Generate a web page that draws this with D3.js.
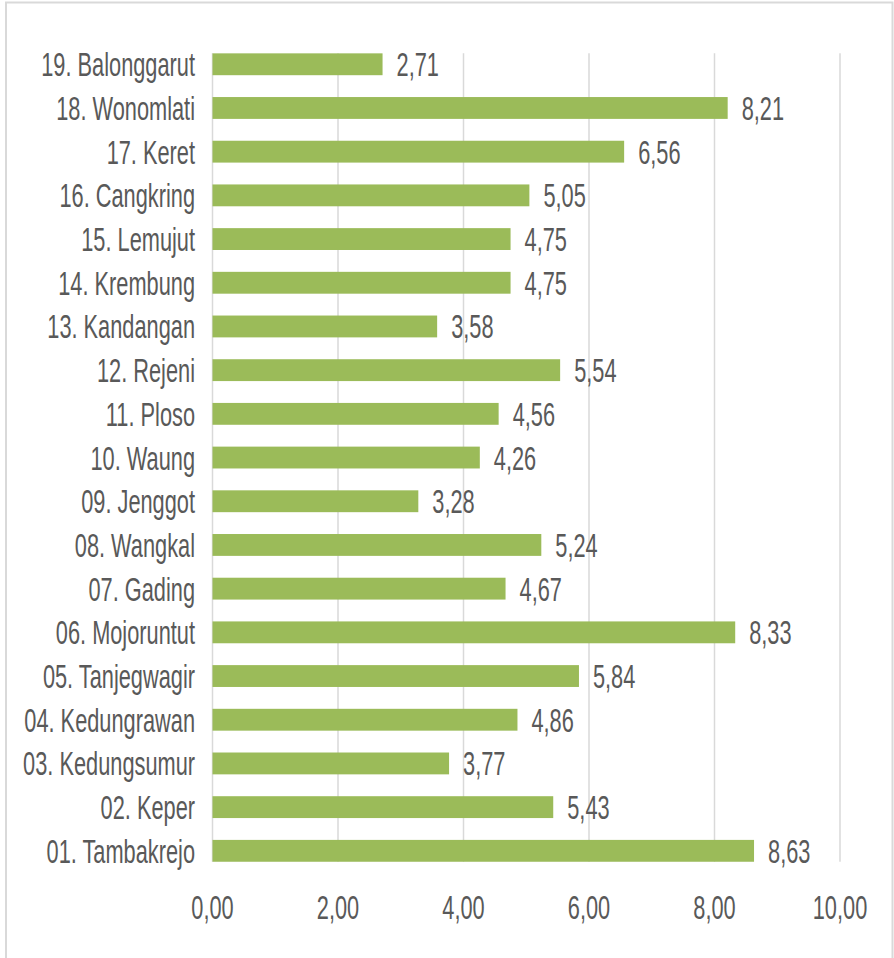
<!DOCTYPE html>
<html>
<head>
<meta charset="utf-8">
<script src="https://cdn.jsdelivr.net/npm/d3@7"></script>
<style>
  html, body { margin: 0; padding: 0; background: #fff; }
  svg { display: block; }
</style>
</head>
<body>
<svg id="chart" width="894" height="958"></svg>
<script>
"use strict";

// categories, bottom to top as in the picture
const categories = [
  '01. Tambakrejo', '02. Keper', '03. Kedungsumur', '04. Kedungrawan', '05. Tanjegwagir',
  '06. Mojoruntut', '07. Gading', '08. Wangkal', '09. Jenggot', '10. Waung',
  '11. Ploso', '12. Rejeni', '13. Kandangan', '14. Krembung', '15. Lemujut',
  '16. Cangkring', '17. Keret', '18. Wonomlati', '19. Balonggarut'
];
const values = [
  8.63, 5.43, 3.77, 4.86, 5.84,
  8.33, 4.67, 5.24, 3.28, 4.26,
  4.56, 5.54, 3.58, 4.75, 4.75,
  5.05, 6.56, 8.21, 2.71
];
const xTicks = [0, 2, 4, 6, 8, 10];

const data = categories.map((c, i) => ({ cat: c, val: values[i] }));

const svg = d3.select('#chart');
const W = 894, H = 958;

const FONT = "'Liberation Sans', Arial, sans-serif";
const FS = 33.5;      // tall glyphs
const SX = 0.65;      // horizontally squeezed, as in the picture
const TXT = '#595959';
const fmt = v => d3.format('.2f')(v).replace('.', ',');

// frame
svg.append('rect')
  .attr('x', 6).attr('y', 2.5)
  .attr('width', 886.5).attr('height', 960)
  .attr('fill', '#fff')
  .attr('stroke', '#d9d9d9').attr('stroke-width', 2);

const x = d3.scaleLinear().domain([0, 10]).range([212.5, 840]);
const y = d3.scaleBand()
  .domain(categories.slice().reverse())
  .range([31.5, 883.6])
  .padding(0.5);

const gridTop = y(categories[categories.length - 1]);
const gridBot = y(categories[0]) + y.bandwidth();

// squeezed text helper
function sText(g, tx, ty, str, anchor) {
  return g.append('text')
    .attr('transform', 'translate(' + tx + ',' + ty + ') scale(' + SX + ',1)')
    .attr('text-anchor', anchor)
    .attr('font-family', FONT)
    .attr('font-size', FS + 'px')
    .attr('fill', TXT)
    .text(str);
}

// gridlines
svg.append('g').selectAll('line').data(xTicks).enter().append('line')
  .attr('x1', d => x(d)).attr('x2', d => x(d))
  .attr('y1', gridTop).attr('y2', gridBot)
  .attr('stroke', '#d9d9d9').attr('stroke-width', 1.5);

// x tick labels
const xl = svg.append('g');
xTicks.forEach(t => sText(xl, x(t), 919, fmt(t), 'middle'));

// bars
svg.append('g').selectAll('rect').data(data).enter().append('rect')
  .attr('x', x(0))
  .attr('y', d => y(d.cat))
  .attr('width', d => x(d.val) - x(0))
  .attr('height', y.bandwidth())
  .attr('fill', '#9bbb59');

const capShift = FS * 0.716 / 2;

// category labels
const cl = svg.append('g');
data.forEach(d => sText(cl, 195, y(d.cat) + y.bandwidth() / 2 + capShift, d.cat, 'end'));

// value labels
const vl = svg.append('g');
data.forEach(d => sText(vl, x(d.val) + 14, y(d.cat) + y.bandwidth() / 2 + capShift, fmt(d.val), 'start'));
</script>
</body>
</html>
